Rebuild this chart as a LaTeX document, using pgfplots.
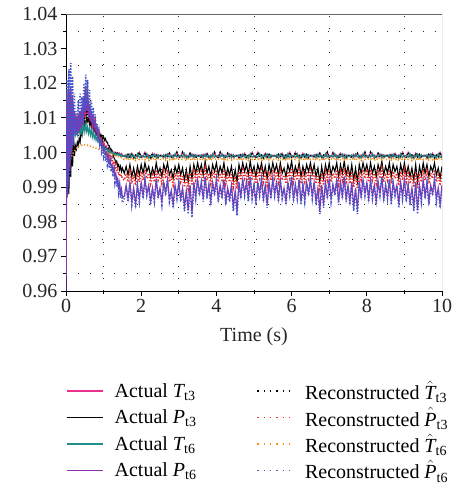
\documentclass[border=0pt]{standalone}
\usepackage{pgfplots}
\pgfplotsset{compat=1.18}
\usepackage{pgfplotstable}
\usepackage{amsmath}
\usepackage{fontspec}
\setmainfont{Liberation Serif}
\definecolor{cpink}{RGB}{232,48,140}
\definecolor{cteal}{RGB}{32,140,140}
\definecolor{cpurple}{RGB}{140,50,175}
\definecolor{cred}{RGB}{236,40,36}
\definecolor{corange}{RGB}{247,140,20}
\definecolor{cblue}{RGB}{70,85,200}
\pgfplotstableread{
t Tt3 Tt3h Pt3 Pt3h Tt6 Tt6h Pt6 Pt6h
0.000 0.9950 0.9960 0.9900 0.9930 0.9960 0.9940 0.9500 0.9900
0.025 1.0120 1.0100 0.9870 1.0150 1.0060 0.9950 1.0180 1.0210
0.050 0.9980 0.9990 0.9950 0.9920 0.9970 0.9960 0.9900 0.9880
0.075 1.0160 1.0140 0.9880 1.0180 1.0080 0.9970 1.0200 1.0240
0.100 1.0020 1.0010 1.0000 0.9960 1.0000 0.9975 0.9950 0.9930
0.125 1.0180 1.0160 0.9930 1.0170 1.0090 0.9985 1.0190 1.0258
0.150 1.0050 1.0040 1.0030 1.0010 1.0030 0.9990 1.0000 0.9980
0.175 1.0150 1.0140 0.9960 1.0140 1.0080 0.9995 1.0160 1.0220
0.200 1.0070 1.0060 1.0040 1.0040 1.0050 1.0000 1.0040 1.0020
0.225 1.0120 1.0110 0.9990 1.0110 1.0070 1.0005 1.0120 1.0170
0.250 1.0080 1.0070 1.0020 1.0060 1.0050 1.0010 1.0060 1.0050
0.275 1.0100 1.0090 1.0010 1.0090 1.0060 1.0012 1.0100 1.0120
0.300 1.0070 1.0060 1.0030 1.0050 1.0050 1.0015 1.0050 1.0060
0.325 1.0110 1.0100 1.0020 1.0100 1.0070 1.0017 1.0110 1.0150
0.350 1.0060 1.0060 1.0040 1.0060 1.0055 1.0018 1.0060 1.0070
0.375 1.0120 1.0110 1.0030 1.0120 1.0075 1.0019 1.0120 1.0170
0.400 1.0080 1.0070 1.0060 1.0070 1.0050 1.0020 1.0070 1.0080
0.425 1.0130 1.0120 1.0050 1.0130 1.0080 1.0021 1.0130 1.0160
0.450 1.0090 1.0080 1.0080 1.0080 1.0060 1.0021 1.0080 1.0090
0.475 1.0150 1.0140 1.0070 1.0160 1.0085 1.0022 1.0160 1.0200
0.500 1.0100 1.0090 1.0090 1.0100 1.0060 1.0022 1.0110 1.0120
0.525 1.0170 1.0160 1.0080 1.0190 1.0080 1.0022 1.0180 1.0225
0.550 1.0110 1.0100 1.0100 1.0120 1.0060 1.0021 1.0120 1.0140
0.575 1.0150 1.0140 1.0090 1.0170 1.0075 1.0021 1.0160 1.0210
0.600 1.0100 1.0090 1.0100 1.0110 1.0055 1.0020 1.0100 1.0120
0.625 1.0130 1.0120 1.0080 1.0140 1.0070 1.0019 1.0140 1.0180
0.650 1.0090 1.0080 1.0090 1.0090 1.0050 1.0018 1.0090 1.0100
0.675 1.0120 1.0110 1.0070 1.0120 1.0065 1.0017 1.0120 1.0150
0.700 1.0080 1.0070 1.0090 1.0080 1.0045 1.0016 1.0080 1.0090
0.725 1.0110 1.0100 1.0070 1.0100 1.0060 1.0015 1.0100 1.0130
0.750 1.0070 1.0060 1.0080 1.0070 1.0040 1.0014 1.0070 1.0080
0.775 1.0090 1.0080 1.0060 1.0090 1.0050 1.0013 1.0090 1.0110
0.800 1.0060 1.0055 1.0075 1.0060 1.0035 1.0012 1.0060 1.0065
0.825 1.0070 1.0065 1.0060 1.0070 1.0045 1.0011 1.0070 1.0085
0.850 1.0050 1.0045 1.0065 1.0045 1.0030 1.0010 1.0040 1.0040
0.875 1.0060 1.0055 1.0050 1.0055 1.0035 1.0009 1.0050 1.0060
0.900 1.0040 1.0035 1.0055 1.0035 1.0025 1.0008 1.0030 1.0025
0.925 1.0045 1.0040 1.0045 1.0040 1.0028 1.0007 1.0035 1.0040
0.950 1.0030 1.0025 1.0050 1.0025 1.0020 1.0006 1.0015 1.0005
0.975 1.0035 1.0030 1.0040 1.0030 1.0022 1.0005 1.0025 1.0020
1.000 1.0020 1.0015 1.0045 1.0015 1.0015 1.0004 1.0005 0.9990
1.025 1.0025 1.0020 1.0035 1.0020 1.0017 1.0003 1.0010 1.0005
1.050 1.0012 1.0010 1.0040 1.0005 1.0010 1.0002 0.9995 0.9975
1.075 1.0018 1.0015 1.0030 1.0010 1.0012 1.0001 1.0000 0.9990
1.100 1.0008 1.0005 1.0030 0.9995 1.0005 1.0000 0.9980 0.9965
1.125 1.0012 1.0010 1.0020 1.0000 1.0008 0.9999 0.9990 0.9980
1.150 1.0003 1.0002 1.0020 0.9985 1.0000 0.9998 0.9970 0.9955
1.175 1.0008 1.0006 1.0010 0.9995 1.0004 0.9997 0.9980 0.9975
1.200 1.0000 0.9999 1.0010 0.9975 0.9998 0.9996 0.9960 0.9945
1.225 1.0005 1.0003 1.0000 0.9985 1.0002 0.9995 0.9965 0.9960
1.250 0.9997 0.9996 0.9995 0.9965 0.9995 0.9994 0.9945 0.9930
1.275 1.0002 1.0000 0.9985 0.9975 0.9999 0.9993 0.9955 0.9950
1.300 0.9995 0.9994 0.9980 0.9955 0.9993 0.9992 0.9930 0.9915
1.325 1.0000 0.9998 0.9970 0.9965 0.9997 0.9991 0.9940 0.9935
1.350 0.9994 0.9993 0.9975 0.9945 0.9992 0.9990 0.9915 0.9900
1.375 0.9999 0.9997 0.9960 0.9950 0.9996 0.9989 0.9925 0.9920
1.400 0.9993 0.9992 0.9965 0.9935 0.9991 0.9988 0.9900 0.9885
1.425 0.9998 0.9996 0.9950 0.9940 0.9995 0.9987 0.9910 0.9905
1.450 0.9992 0.9991 0.9960 0.9930 0.9990 0.9986 0.9880 0.9870
1.475 0.9997 0.9995 0.9945 0.9935 0.9994 0.9985 0.9895 0.9890
1.500 0.9991 0.9990 0.9955 0.9925 0.9989 0.9984 0.9870 0.9855
1.55 0.9992 0.9991 0.9940 0.9920 0.9988 0.9980 0.9874 0.9867
1.60 0.9986 0.9985 0.9960 0.9940 0.9994 0.9983 0.9906 0.9903
1.65 0.9995 0.9994 0.9935 0.9915 0.9984 0.9978 0.9866 0.9858
1.70 0.9988 0.9987 0.9965 0.9945 0.9996 0.9984 0.9914 0.9912
1.75 0.9998 0.9997 0.9930 0.9910 0.9987 0.9979 0.9858 0.9849
1.80 0.9985 0.9984 0.9955 0.9935 0.9992 0.9982 0.9898 0.9894
1.85 0.9993 0.9992 0.9925 0.9905 0.9983 0.9977 0.9850 0.9840
1.90 0.9989 0.9988 0.9960 0.9940 0.9997 0.9985 0.9906 0.9903
1.95 1.0001 1.0000 0.9935 0.9915 0.9986 0.9980 0.9866 0.9858
2.00 0.9987 0.9986 0.9965 0.9945 0.9991 0.9981 0.9914 0.9912
2.05 0.9987 0.9986 0.9940 0.9920 0.9991 0.9981 0.9874 0.9867
2.10 1.0001 1.0000 0.9970 0.9950 0.9986 0.9980 0.9922 0.9921
2.15 0.9989 0.9988 0.9945 0.9925 0.9997 0.9985 0.9882 0.9876
2.20 0.9993 0.9992 0.9960 0.9940 0.9983 0.9977 0.9906 0.9903
2.25 0.9985 0.9984 0.9930 0.9910 0.9992 0.9982 0.9858 0.9849
2.30 0.9998 0.9997 0.9955 0.9935 0.9987 0.9979 0.9898 0.9894
2.35 0.9988 0.9987 0.9935 0.9915 0.9996 0.9984 0.9866 0.9858
2.40 0.9995 0.9994 0.9970 0.9950 0.9984 0.9978 0.9922 0.9921
2.45 0.9986 0.9985 0.9940 0.9920 0.9994 0.9983 0.9874 0.9867
2.50 0.9992 0.9991 0.9955 0.9935 0.9988 0.9980 0.9898 0.9894
2.55 0.9992 0.9991 0.9930 0.9910 0.9988 0.9980 0.9858 0.9849
2.60 0.9986 0.9985 0.9965 0.9945 0.9994 0.9983 0.9914 0.9912
2.65 0.9995 0.9994 0.9945 0.9925 0.9984 0.9978 0.9882 0.9876
2.70 0.9988 0.9987 0.9970 0.9950 0.9996 0.9984 0.9922 0.9921
2.75 0.9998 0.9997 0.9935 0.9915 0.9987 0.9979 0.9866 0.9858
2.80 0.9985 0.9984 0.9950 0.9930 0.9992 0.9982 0.9890 0.9885
2.85 0.9993 0.9992 0.9925 0.9905 0.9983 0.9977 0.9850 0.9840
2.90 0.9989 0.9988 0.9960 0.9940 0.9997 0.9985 0.9906 0.9903
2.95 1.0001 1.0000 0.9940 0.9920 0.9986 0.9980 0.9874 0.9867
3.00 0.9987 0.9986 0.9965 0.9945 0.9991 0.9981 0.9914 0.9912
3.05 0.9987 0.9986 0.9935 0.9915 0.9991 0.9981 0.9866 0.9858
3.10 1.0001 1.0000 0.9955 0.9935 0.9986 0.9980 0.9898 0.9894
3.15 0.9989 0.9988 0.9920 0.9900 0.9997 0.9985 0.9842 0.9831
3.20 0.9993 0.9992 0.9950 0.9930 0.9983 0.9977 0.9890 0.9885
3.25 0.9985 0.9984 0.9915 0.9895 0.9992 0.9982 0.9834 0.9822
3.30 0.9998 0.9997 0.9960 0.9940 0.9987 0.9979 0.9906 0.9903
3.35 0.9988 0.9987 0.9925 0.9905 0.9996 0.9984 0.9825 0.9812
3.40 0.9995 0.9994 0.9965 0.9945 0.9984 0.9978 0.9914 0.9912
3.45 0.9986 0.9985 0.9940 0.9920 0.9994 0.9983 0.9874 0.9867
3.50 0.9992 0.9991 0.9970 0.9950 0.9988 0.9980 0.9922 0.9921
3.55 0.9992 0.9991 0.9945 0.9925 0.9988 0.9980 0.9882 0.9876
3.60 0.9986 0.9985 0.9965 0.9945 0.9994 0.9983 0.9914 0.9912
3.65 0.9995 0.9994 0.9935 0.9915 0.9984 0.9978 0.9866 0.9858
3.70 0.9988 0.9987 0.9975 0.9955 0.9996 0.9984 0.9930 0.9930
3.75 0.9998 0.9997 0.9940 0.9920 0.9987 0.9979 0.9874 0.9867
3.80 0.9985 0.9984 0.9960 0.9940 0.9992 0.9982 0.9906 0.9903
3.85 0.9993 0.9992 0.9930 0.9910 0.9983 0.9977 0.9858 0.9849
3.90 0.9989 0.9988 0.9965 0.9945 0.9997 0.9985 0.9914 0.9912
3.95 1.0001 1.0000 0.9945 0.9925 0.9986 0.9980 0.9882 0.9876
4.00 0.9987 0.9986 0.9970 0.9950 0.9991 0.9981 0.9922 0.9921
4.05 0.9987 0.9986 0.9935 0.9915 0.9991 0.9981 0.9866 0.9858
4.10 1.0001 1.0000 0.9960 0.9940 0.9986 0.9980 0.9906 0.9903
4.15 0.9989 0.9988 0.9940 0.9920 0.9997 0.9985 0.9874 0.9867
4.20 0.9993 0.9992 0.9970 0.9950 0.9983 0.9977 0.9922 0.9921
4.25 0.9985 0.9984 0.9930 0.9910 0.9992 0.9982 0.9858 0.9849
4.30 0.9998 0.9997 0.9955 0.9935 0.9987 0.9979 0.9898 0.9894
4.35 0.9988 0.9987 0.9935 0.9915 0.9996 0.9984 0.9866 0.9858
4.40 0.9995 0.9994 0.9960 0.9940 0.9984 0.9978 0.9906 0.9903
4.45 0.9986 0.9985 0.9920 0.9900 0.9994 0.9983 0.9842 0.9831
4.50 0.9992 0.9991 0.9950 0.9930 0.9988 0.9980 0.9890 0.9885
4.55 0.9992 0.9991 0.9915 0.9895 0.9988 0.9980 0.9830 0.9818
4.60 0.9986 0.9985 0.9965 0.9945 0.9994 0.9983 0.9914 0.9912
4.65 0.9995 0.9994 0.9940 0.9920 0.9984 0.9978 0.9874 0.9867
4.70 0.9988 0.9987 0.9970 0.9950 0.9996 0.9984 0.9922 0.9921
4.75 0.9998 0.9997 0.9945 0.9925 0.9987 0.9979 0.9882 0.9876
4.80 0.9985 0.9984 0.9965 0.9945 0.9992 0.9982 0.9914 0.9912
4.85 0.9993 0.9992 0.9935 0.9915 0.9983 0.9977 0.9866 0.9858
4.90 0.9989 0.9988 0.9975 0.9955 0.9997 0.9985 0.9930 0.9930
4.95 1.0001 1.0000 0.9940 0.9920 0.9986 0.9980 0.9874 0.9867
5.00 0.9987 0.9986 0.9960 0.9940 0.9991 0.9981 0.9906 0.9903
5.05 0.9987 0.9986 0.9930 0.9910 0.9991 0.9981 0.9858 0.9849
5.10 1.0001 1.0000 0.9965 0.9945 0.9986 0.9980 0.9914 0.9912
5.15 0.9989 0.9988 0.9945 0.9925 0.9997 0.9985 0.9882 0.9876
5.20 0.9993 0.9992 0.9970 0.9950 0.9983 0.9977 0.9922 0.9921
5.25 0.9985 0.9984 0.9935 0.9915 0.9992 0.9982 0.9866 0.9858
5.30 0.9998 0.9997 0.9960 0.9940 0.9987 0.9979 0.9906 0.9903
5.35 0.9988 0.9987 0.9925 0.9905 0.9996 0.9984 0.9850 0.9840
5.40 0.9995 0.9994 0.9965 0.9945 0.9984 0.9978 0.9914 0.9912
5.45 0.9986 0.9985 0.9940 0.9920 0.9994 0.9983 0.9874 0.9867
5.50 0.9992 0.9991 0.9970 0.9950 0.9988 0.9980 0.9922 0.9921
5.55 0.9992 0.9991 0.9945 0.9925 0.9988 0.9980 0.9882 0.9876
5.60 0.9986 0.9985 0.9965 0.9945 0.9994 0.9983 0.9914 0.9912
5.65 0.9995 0.9994 0.9935 0.9915 0.9984 0.9978 0.9866 0.9858
5.70 0.9988 0.9987 0.9970 0.9950 0.9996 0.9984 0.9922 0.9921
5.75 0.9998 0.9997 0.9940 0.9920 0.9987 0.9979 0.9874 0.9867
5.80 0.9985 0.9984 0.9955 0.9935 0.9992 0.9982 0.9898 0.9894
5.85 0.9993 0.9992 0.9930 0.9910 0.9983 0.9977 0.9858 0.9849
5.90 0.9989 0.9988 0.9965 0.9945 0.9997 0.9985 0.9914 0.9912
5.95 1.0001 1.0000 0.9945 0.9925 0.9986 0.9980 0.9882 0.9876
6.00 0.9987 0.9986 0.9975 0.9955 0.9991 0.9981 0.9930 0.9930
6.05 0.9987 0.9986 0.9935 0.9915 0.9991 0.9981 0.9866 0.9858
6.10 1.0001 1.0000 0.9960 0.9940 0.9986 0.9980 0.9906 0.9903
6.15 0.9989 0.9988 0.9940 0.9920 0.9997 0.9985 0.9874 0.9867
6.20 0.9993 0.9992 0.9970 0.9950 0.9983 0.9977 0.9922 0.9921
6.25 0.9985 0.9984 0.9930 0.9910 0.9992 0.9982 0.9858 0.9849
6.30 0.9998 0.9997 0.9960 0.9940 0.9987 0.9979 0.9906 0.9903
6.35 0.9988 0.9987 0.9935 0.9915 0.9996 0.9984 0.9866 0.9858
6.40 0.9995 0.9994 0.9965 0.9945 0.9984 0.9978 0.9914 0.9912
6.45 0.9986 0.9985 0.9945 0.9925 0.9994 0.9983 0.9882 0.9876
6.50 0.9992 0.9991 0.9970 0.9950 0.9988 0.9980 0.9922 0.9921
6.55 0.9992 0.9991 0.9940 0.9920 0.9988 0.9980 0.9874 0.9867
6.60 0.9986 0.9985 0.9965 0.9945 0.9994 0.9983 0.9914 0.9912
6.65 0.9995 0.9994 0.9930 0.9910 0.9984 0.9978 0.9858 0.9849
6.70 0.9988 0.9987 0.9955 0.9935 0.9996 0.9984 0.9898 0.9894
6.75 0.9998 0.9997 0.9915 0.9895 0.9987 0.9979 0.9834 0.9822
6.80 0.9985 0.9984 0.9960 0.9940 0.9992 0.9982 0.9906 0.9903
6.85 0.9993 0.9992 0.9925 0.9905 0.9983 0.9977 0.9850 0.9840
6.90 0.9989 0.9988 0.9965 0.9945 0.9997 0.9985 0.9914 0.9912
6.95 1.0001 1.0000 0.9940 0.9920 0.9986 0.9980 0.9874 0.9867
7.00 0.9987 0.9986 0.9970 0.9950 0.9991 0.9981 0.9922 0.9921
7.05 0.9987 0.9986 0.9935 0.9915 0.9991 0.9981 0.9866 0.9858
7.10 1.0001 1.0000 0.9960 0.9940 0.9986 0.9980 0.9906 0.9903
7.15 0.9989 0.9988 0.9945 0.9925 0.9997 0.9985 0.9882 0.9876
7.20 0.9993 0.9992 0.9970 0.9950 0.9983 0.9977 0.9922 0.9921
7.25 0.9985 0.9984 0.9930 0.9910 0.9992 0.9982 0.9858 0.9849
7.30 0.9998 0.9997 0.9965 0.9945 0.9987 0.9979 0.9914 0.9912
7.35 0.9988 0.9987 0.9940 0.9920 0.9996 0.9984 0.9874 0.9867
7.40 0.9995 0.9994 0.9975 0.9955 0.9984 0.9978 0.9930 0.9930
7.45 0.9986 0.9985 0.9935 0.9915 0.9994 0.9983 0.9866 0.9858
7.50 0.9992 0.9991 0.9960 0.9940 0.9988 0.9980 0.9906 0.9903
7.55 0.9992 0.9991 0.9930 0.9910 0.9988 0.9980 0.9858 0.9849
7.60 0.9986 0.9985 0.9965 0.9945 0.9994 0.9983 0.9914 0.9912
7.65 0.9995 0.9994 0.9920 0.9900 0.9984 0.9978 0.9842 0.9831
7.70 0.9988 0.9987 0.9955 0.9935 0.9996 0.9984 0.9898 0.9894
7.75 0.9998 0.9997 0.9915 0.9895 0.9987 0.9979 0.9834 0.9822
7.80 0.9985 0.9984 0.9965 0.9945 0.9992 0.9982 0.9914 0.9912
7.85 0.9993 0.9992 0.9940 0.9920 0.9983 0.9977 0.9874 0.9867
7.90 0.9989 0.9988 0.9970 0.9950 0.9997 0.9985 0.9922 0.9921
7.95 1.0001 1.0000 0.9945 0.9925 0.9986 0.9980 0.9882 0.9876
8.00 0.9987 0.9986 0.9965 0.9945 0.9991 0.9981 0.9914 0.9912
8.05 0.9987 0.9986 0.9935 0.9915 0.9991 0.9981 0.9866 0.9858
8.10 1.0001 1.0000 0.9970 0.9950 0.9986 0.9980 0.9922 0.9921
8.15 0.9989 0.9988 0.9940 0.9920 0.9997 0.9985 0.9874 0.9867
8.20 0.9993 0.9992 0.9960 0.9940 0.9983 0.9977 0.9906 0.9903
8.25 0.9985 0.9984 0.9930 0.9910 0.9992 0.9982 0.9858 0.9849
8.30 0.9998 0.9997 0.9965 0.9945 0.9987 0.9979 0.9914 0.9912
8.35 0.9988 0.9987 0.9945 0.9925 0.9996 0.9984 0.9882 0.9876
8.40 0.9995 0.9994 0.9975 0.9955 0.9984 0.9978 0.9930 0.9930
8.45 0.9986 0.9985 0.9935 0.9915 0.9994 0.9983 0.9866 0.9858
8.50 0.9992 0.9991 0.9960 0.9940 0.9988 0.9980 0.9906 0.9903
8.55 0.9992 0.9991 0.9940 0.9920 0.9988 0.9980 0.9874 0.9867
8.60 0.9986 0.9985 0.9970 0.9950 0.9994 0.9983 0.9922 0.9921
8.65 0.9995 0.9994 0.9930 0.9910 0.9984 0.9978 0.9858 0.9849
8.70 0.9988 0.9987 0.9965 0.9945 0.9996 0.9984 0.9914 0.9912
8.75 0.9998 0.9997 0.9945 0.9925 0.9987 0.9979 0.9882 0.9876
8.80 0.9985 0.9984 0.9960 0.9940 0.9992 0.9982 0.9906 0.9903
8.85 0.9993 0.9992 0.9925 0.9905 0.9983 0.9977 0.9850 0.9840
8.90 0.9989 0.9988 0.9965 0.9945 0.9997 0.9985 0.9914 0.9912
8.95 1.0001 1.0000 0.9940 0.9920 0.9986 0.9980 0.9874 0.9867
9.00 0.9987 0.9986 0.9970 0.9950 0.9991 0.9981 0.9922 0.9921
9.05 0.9987 0.9986 0.9935 0.9915 0.9991 0.9981 0.9866 0.9858
9.10 1.0001 1.0000 0.9960 0.9940 0.9986 0.9980 0.9906 0.9903
9.15 0.9989 0.9988 0.9930 0.9910 0.9997 0.9985 0.9858 0.9849
9.20 0.9993 0.9992 0.9955 0.9935 0.9983 0.9977 0.9898 0.9894
9.25 0.9985 0.9984 0.9920 0.9900 0.9992 0.9982 0.9842 0.9831
9.30 0.9998 0.9997 0.9965 0.9945 0.9987 0.9979 0.9914 0.9912
9.35 0.9988 0.9987 0.9915 0.9895 0.9996 0.9984 0.9834 0.9822
9.40 0.9995 0.9994 0.9960 0.9940 0.9984 0.9978 0.9906 0.9903
9.45 0.9986 0.9985 0.9935 0.9915 0.9994 0.9983 0.9866 0.9858
9.50 0.9992 0.9991 0.9970 0.9950 0.9988 0.9980 0.9922 0.9921
9.55 0.9992 0.9991 0.9940 0.9920 0.9988 0.9980 0.9874 0.9867
9.60 0.9986 0.9985 0.9965 0.9945 0.9994 0.9983 0.9914 0.9912
9.65 0.9995 0.9994 0.9930 0.9910 0.9984 0.9978 0.9858 0.9849
9.70 0.9988 0.9987 0.9960 0.9940 0.9996 0.9984 0.9906 0.9903
9.75 0.9998 0.9997 0.9945 0.9925 0.9987 0.9979 0.9882 0.9876
9.80 0.9985 0.9984 0.9970 0.9950 0.9992 0.9982 0.9922 0.9921
9.85 0.9993 0.9992 0.9935 0.9915 0.9983 0.9977 0.9866 0.9858
9.90 0.9989 0.9988 0.9955 0.9935 0.9997 0.9985 0.9898 0.9894
9.95 1.0001 1.0000 0.9925 0.9905 0.9986 0.9980 0.9850 0.9840
10.00 0.9987 0.9986 0.9960 0.9940 0.9991 0.9981 0.9906 0.9903
}\data
\begin{document}
\begin{tikzpicture}
\begin{axis}[
  scale only axis, width=376pt, height=277pt,
  xmin=0, xmax=10, ymin=0.96, ymax=1.04,
  axis lines*=left,
  axis line style={black, line width=0.9pt},
  xtick={0,2,4,6,8,10},
  ytick={0.96,0.97,0.98,0.99,1.00,1.01,1.02,1.03,1.04},
  minor xtick={1,3,5,7,9},
  minor ytick={0.965,0.975,0.985,0.995,1.005,1.015,1.025,1.035},
  grid=minor,
  minor grid style={black!85, line width=0.9pt, dash pattern=on 0.9pt off 11pt},
  tick align=outside,
  major tick length=5pt, minor tick length=3pt,
  tick style={black, line width=0.8pt},
  /pgf/number format/assume math mode=true,
  yticklabel style={/pgf/number format/.cd, fixed, fixed zerofill, precision=2},
  xticklabel style={/pgf/number format/.cd, fixed, precision=0},
  tick label style={font=\fontsize{20}{24}\selectfont, black!85},
  xlabel={Time (s)},
  xlabel style={font=\fontsize{20}{24}\selectfont, black!85, yshift=-8pt},
  legend columns=2,
  legend cell align=left,
  legend style={at={(0.511,-0.317)}, anchor=north, draw=none, fill=none,
    inner sep=0pt,
    font=\fontsize{20}{24}\selectfont,
    /tikz/every odd column/.append style={column sep=9pt},
    /tikz/every even column/.append style={column sep=58pt},
    row sep=2.4pt},
  legend image code/.code={\draw[#1] (0pt,0pt) -- (36pt,0pt);},
  act/.style={line width=1.1pt},
  rec/.style={line width=1.6pt, dash pattern=on 1.2pt off 1.8pt},
  lact/.style={line width=1.5pt},
  lrec/.style={line width=1.5pt, dash pattern=on 1.5pt off 4.8pt},
]
\addplot[act, cpink, forget plot] table[x=t, y=Tt3] {\data};
\addplot[rec, black, forget plot] table[x=t, y=Tt3h] {\data};
\addplot[act, black, forget plot] table[x=t, y=Pt3] {\data};
\addplot[rec, cred, forget plot] table[x=t, y=Pt3h] {\data};
\addplot[act, cteal, forget plot] table[x=t, y=Tt6] {\data};
\addplot[rec, corange, forget plot] table[x=t, y=Tt6h] {\data};
\addplot[act, cpurple, forget plot] table[x=t, y=Pt6] {\data};
\addplot[rec, cblue, forget plot] table[x=t, y=Pt6h] {\data};
\addlegendimage{lact, draw=cpink}
\addlegendentry{Actual $\textit{T}_{\text{t3}}$}
\addlegendimage{lrec, draw=black}
\addlegendentry{Reconstructed $\hat{\textit{T}}_{\text{t3}}$}
\addlegendimage{lact, draw=black}
\addlegendentry{Actual $\textit{P}_{\text{t3}}$}
\addlegendimage{lrec, draw=cred}
\addlegendentry{Reconstructed $\hat{\textit{P}}_{\text{t3}}$}
\addlegendimage{lact, draw=cteal}
\addlegendentry{Actual $\textit{T}_{\text{t6}}$}
\addlegendimage{lrec, draw=corange}
\addlegendentry{Reconstructed $\hat{\textit{T}}_{\text{t6}}$}
\addlegendimage{lact, draw=cpurple}
\addlegendentry{Actual $\textit{P}_{\text{t6}}$}
\addlegendimage{lrec, draw=cblue}
\addlegendentry{Reconstructed $\hat{\textit{P}}_{\text{t6}}$}
\draw[black!60, line width=0.8pt] (rel axis cs:0,1) -- (rel axis cs:1,1) -- (rel axis cs:1,0);
\coordinate (bbtl) at (rel axis cs:0,1);
\coordinate (bbbr) at (rel axis cs:1,0);
\end{axis}
\path ([shift={(-66pt,14pt)}]bbtl) ([shift={(14pt,-197pt)}]bbbr);
\end{tikzpicture}
\end{document}
